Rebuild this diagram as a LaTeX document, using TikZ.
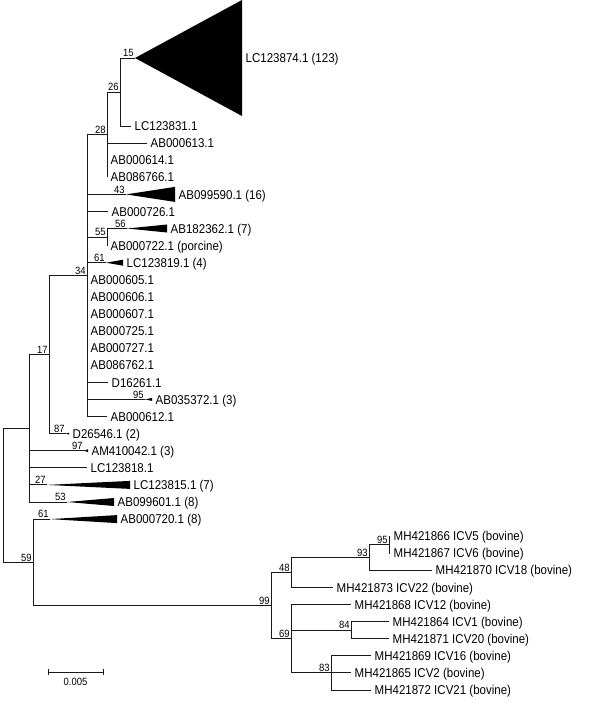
\documentclass[tikz,border=0pt]{standalone}
\usepackage{fontspec}
\setmainfont{Liberation Sans}[FakeStretch=0.9]
\usetikzlibrary{positioning}

\begin{document}
\begin{tikzpicture}[
    x=1pt, y=-1pt,
    branch/.style={line width=1pt, color=black!90},
    clade/.style={fill=black},
    leaf/.style={anchor=west, inner xsep=3.5pt, inner ysep=0pt, text height=9.2pt, text depth=0pt, font=\fontsize{12.8}{14}\selectfont},
    boot/.style={anchor=south east, inner sep=1.2pt, text height=7.5pt, text depth=0pt, font=\fontsize{10.5}{12}\selectfont}
]
\useasboundingbox (0,0) rectangle (600,704);

% Internal nodes
\coordinate (root) at (3,495.3);
\coordinate (n15) at (135,58);
\coordinate (n26) at (120,92);
\coordinate (n28) at (107,134.7);
\coordinate (n55) at (107,237.1);
\coordinate (n34) at (87,275.6);
\coordinate (n17) at (49,354.6);
\coordinate (nD) at (29,428.3);
\coordinate (nE) at (33,562.4);
\coordinate (nF) at (271,605.6);
\coordinate (nG) at (291,572.5);
\coordinate (n93) at (369,557.6);
\coordinate (n95) at (389,544.8);
\coordinate (nH) at (291,638.7);
\coordinate (n84) at (351,630.2);
\coordinate (n83) at (331,672.9);

% Collapsed clade apexes
\coordinate (c0) at (135,58);
\coordinate (c5) at (126,194.4);
\coordinate (c7) at (127,228.5);
\coordinate (c9) at (106,262.7);
\coordinate (c17) at (145,399.4);
\coordinate (c19) at (66,433.6);
\coordinate (c20) at (84,450.7);
\coordinate (c22) at (47,484.9);
\coordinate (c23) at (67,502.0);
\coordinate (c24) at (50,519.1);

% Collapsed clades
\fill[clade] (c0) -- ++(107,-58) -- ++(0,116) -- cycle;
\fill[clade] (c5) -- ++(49,-7.5) -- ++(0,15) -- cycle;
\fill[clade] (c7) -- ++(40,-4) -- ++(0,8) -- cycle;
\fill[clade] (c9) -- ++(17,-3) -- ++(0,6) -- cycle;
\fill[clade] (c17) -- ++(7,-1.5) -- ++(0,3) -- cycle;
\fill[clade] (c19) -- ++(3,-1) -- ++(0,2) -- cycle;
\fill[clade] (c20) -- ++(4,-1.5) -- ++(0,3) -- cycle;
\fill[clade] (c22) -- ++(83,-4) -- ++(0,8) -- cycle;
\fill[clade] (c23) -- ++(47,-4) -- ++(0,8) -- cycle;
\fill[clade] (c24) -- ++(67,-4) -- ++(0,8) -- cycle;

% Taxa
\node[leaf] (t0) at (242,58) {LC123874.1 (123)};
\node[leaf] (t1) at (131,126.0) {LC123831.1};
\node[leaf] (t2) at (147,143.1) {AB000613.1};
\node[leaf] (t3) at (107,160.2) {AB000614.1};
\node[leaf] (t4) at (107,177.3) {AB086766.1};
\node[leaf] (t5) at (175,194.4) {AB099590.1 (16)};
\node[leaf] (t6) at (108,211.5) {AB000726.1};
\node[leaf] (t7) at (167,228.5) {AB182362.1 (7)};
\node[leaf] (t8) at (107,245.6) {AB000722.1 (porcine)};
\node[leaf] (t9) at (123,262.7) {LC123819.1 (4)};
\node[leaf] (t10) at (87,279.8) {AB000605.1};
\node[leaf] (t11) at (87,296.9) {AB000606.1};
\node[leaf] (t12) at (87,314.0) {AB000607.1};
\node[leaf] (t13) at (87,331.1) {AB000725.1};
\node[leaf] (t14) at (87,348.2) {AB000727.1};
\node[leaf] (t15) at (87,365.3) {AB086762.1};
\node[leaf] (t16) at (108,382.4) {D16261.1};
\node[leaf] (t17) at (152,399.4) {AB035372.1 (3)};
\node[leaf] (t18) at (107,416.5) {AB000612.1};
\node[leaf] (t19) at (69,433.6) {D26546.1 (2)};
\node[leaf] (t20) at (88,450.7) {AM410042.1 (3)};
\node[leaf] (t21) at (87,467.8) {LC123818.1};
\node[leaf] (t22) at (130,484.9) {LC123815.1 (7)};
\node[leaf] (t23) at (114,502.0) {AB099601.1 (8)};
\node[leaf] (t24) at (117,519.1) {AB000720.1 (8)};
\node[leaf] (t25) at (390,536.2) {MH421866 ICV5 (bovine)};
\node[leaf] (t26) at (390,553.3) {MH421867 ICV6 (bovine)};
\node[leaf] (t27) at (432,570.3) {MH421870 ICV18 (bovine)};
\node[leaf] (t28) at (333,587.4) {MH421873 ICV22 (bovine)};
\node[leaf] (t29) at (351,604.5) {MH421868 ICV12 (bovine)};
\node[leaf] (t30) at (389,621.6) {MH421864 ICV1 (bovine)};
\node[leaf] (t31) at (389,638.7) {MH421871 ICV20 (bovine)};
\node[leaf] (t32) at (371,655.8) {MH421869 ICV16 (bovine)};
\node[leaf] (t33) at (351,672.9) {MH421865 ICV2 (bovine)};
\node[leaf] (t34) at (371,690.0) {MH421872 ICV21 (bovine)};

% Branches
\draw[branch] (root) |- (nD);
\draw[branch] (root) |- (nE);
\draw[branch] (nD) |- (n17);
\draw[branch] (nD) |- (c20) -- (t20.west);
\draw[branch] (nD) |- (t21.west);
\draw[branch] (nD) |- (c22);
\draw[branch] (nD) |- (c23);
\draw[branch] (n17) |- (n34);
\draw[branch] (n17) |- (c19);
\draw[branch] (n34) |- (n28);
\draw[branch] (n34) |- (c5);
\draw[branch] (n34) |- (t6.west);
\draw[branch] (n34) |- (n55);
\draw[branch] (n34) |- (c9);
\draw[branch] (n34) |- (t15.west);
\draw[branch] (n34) |- (t16.west);
\draw[branch] (n34) |- (c17);
\draw[branch] (n34) |- (t18.west);
\draw[branch] (n28) |- (n26);
\draw[branch] (n28) |- (t2.west);
\draw[branch] (n28) |- (t4.west);
\draw[branch] (n26) |- (n15);
\draw[branch] (n26) |- (t1.west);
\draw[branch] (n55) |- (c7);
\draw[branch] (n55) |- (t8.west);
\draw[branch] (nE) |- (c24);
\draw[branch] (nE) |- (nF);
\draw[branch] (nF) |- (nG);
\draw[branch] (nF) |- (nH);
\draw[branch] (nG) |- (n93);
\draw[branch] (nG) |- (t28.west);
\draw[branch] (n93) |- (n95);
\draw[branch] (n93) |- (t27.west);
\draw[branch] (n95) |- (t25.west);
\draw[branch] (n95) |- (t26.west);
\draw[branch] (nH) |- (t29.west);
\draw[branch] (nH) |- (n84);
\draw[branch] (nH) |- (n83);
\draw[branch] (n84) |- (t30.west);
\draw[branch] (n84) |- (t31.west);
\draw[branch] (n83) |- (t32.west);
\draw[branch] (n83) |- (t33.west);
\draw[branch] (n83) |- (t34.west);

% Bootstrap values
\node[boot] (b15) at (c0) {15};
\node[boot] (b26) at (n26) {26};
\node[boot] (b28) at (n28) {28};
\node[boot] (b43) at (c5) {43};
\node[boot] (b55) at (n55) {55};
\node[boot] (b56) at (c7) {56};
\node[boot] (b61a) at (c9) {61};
\node[boot] (b34) at (n34) {34};
\node[boot] (b95a) at (c17) {95};
\node[boot] (b17) at (n17) {17};
\node[boot] (b87) at (c19) {87};
\node[boot] (b97) at (c20) {97};
\node[boot] (b27) at (c22) {27};
\node[boot] (b53) at (c23) {53};
\node[boot] (b61b) at (c24) {61};
\node[boot] (b59) at (nE) {59};
\node[boot] (b99) at (nF) {99};
\node[boot] (b48) at (nG) {48};
\node[boot] (b93) at (n93) {93};
\node[boot] (b95b) at (n95) {95};
\node[boot] (b69) at (nH) {69};
\node[boot] (b84) at (n84) {84};
\node[boot] (b83) at (n83) {83};

% Scale bar
\coordinate (sbl) at (48,672);
\coordinate (sbr) at (103,672);
\draw[branch] (sbl) -- (sbr);
\draw[branch] (sbl) ++(0,-3) -- ++(0,6);
\draw[branch] (sbr) ++(0,-3) -- ++(0,6);
\path (sbl) -- (sbr) coordinate[midway] (sbmid);
\node[boot, anchor=north, below=5pt of sbmid] (sblab) {0.005};

\end{tikzpicture}
\end{document}
